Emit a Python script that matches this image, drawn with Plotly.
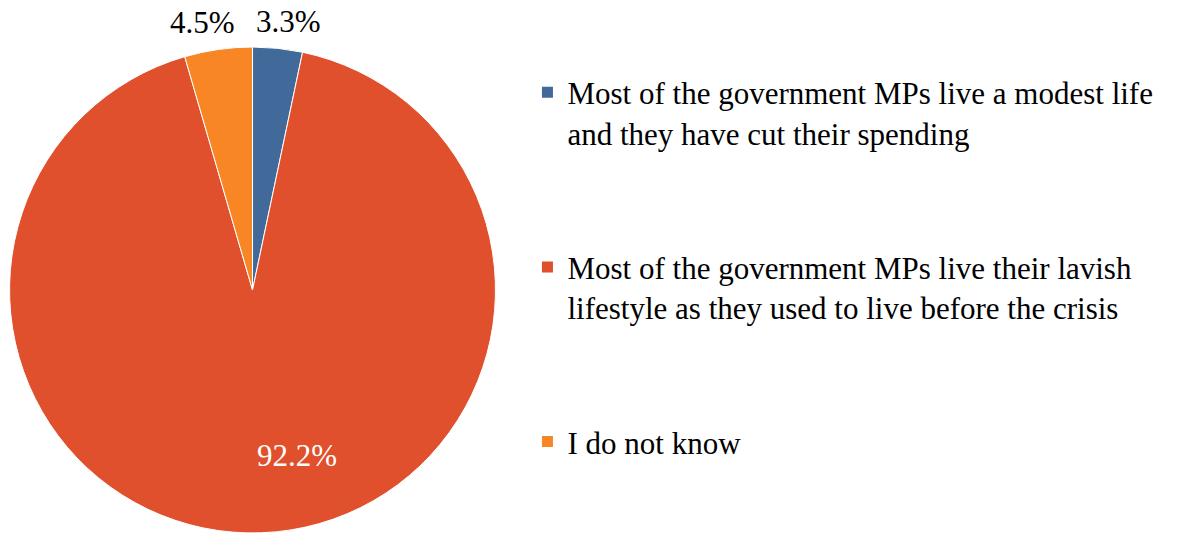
import math
import plotly.graph_objects as go

# Survey responses (share of respondents, %)
labels = [
    "Most of the government MPs live a modest life<br>and they have cut their spending",
    "Most of the government MPs live their lavish<br>lifestyle as they used to live before the crisis",
    "I do not know",
]
values = [3.3, 92.2, 4.5]
colors = ["#416A9B", "#E0502D", "#F98624"]
label_colors = ["black", "white", "black"]
# radial position of each value label (fraction of radius) and a sideways nudge in px
label_radius = [1.11, 0.68, 1.11]
label_nudge = [8, 38, -12]

FONT = "Liberation Serif"
W, H = 1180, 534
PIE_X = [0.0081, 0.4199]
PIE_Y = [0.0019, 0.912]

fig = go.Figure()

fig.add_trace(
    go.Pie(
        labels=labels,
        values=values,
        sort=False,
        direction="clockwise",
        rotation=0,
        marker=dict(colors=colors, line=dict(color="white", width=1)),
        textinfo="none",
        hoverinfo="label+percent",
        showlegend=False,
        domain=dict(x=PIE_X, y=PIE_Y),
    )
)

# legend entries, one group each so the spacing between them can be set
for name, col in zip(labels, colors):
    fig.add_trace(
        go.Scatter(
            x=[None],
            y=[None],
            mode="markers",
            name=name,
            legendgroup=name,
            marker=dict(symbol="square", size=11, color=col),
            hoverinfo="skip",
        )
    )

# value labels along each slice's mid-angle
cx = (PIE_X[0] + PIE_X[1]) / 2 * W
cy = (1 - (PIE_Y[0] + PIE_Y[1]) / 2) * H
r = min((PIE_X[1] - PIE_X[0]) * W, (PIE_Y[1] - PIE_Y[0]) * H) / 2
total = sum(values)
start = 0.0
for v, col, f, dx in zip(values, label_colors, label_radius, label_nudge):
    mid = (start + v / 2) / total * 2 * math.pi
    start += v
    px = cx + f * r * math.sin(mid)
    py = cy - f * r * math.cos(mid)
    fig.add_annotation(
        x=px / W,
        y=1 - py / H,
        xref="paper",
        yref="paper",
        xshift=dx,
        text=f"{v:.1f}%",
        showarrow=False,
        font=dict(family=FONT, size=31, color=col),
        xanchor="center",
        yanchor="middle",
    )

fig.update_layout(
    width=W,
    height=H,
    margin=dict(l=0, r=0, t=0, b=0),
    paper_bgcolor="white",
    plot_bgcolor="white",
    font=dict(family=FONT, size=31, color="black"),
    xaxis=dict(visible=False),
    yaxis=dict(visible=False),
    legend=dict(
        x=0.447,
        y=0.877,
        xanchor="left",
        yanchor="top",
        traceorder="grouped",
        tracegroupgap=91,
        valign="top",
        font=dict(family=FONT, size=31, color="black"),
        bgcolor="rgba(0,0,0,0)",
    ),
)

fig.write_html("out.html")
